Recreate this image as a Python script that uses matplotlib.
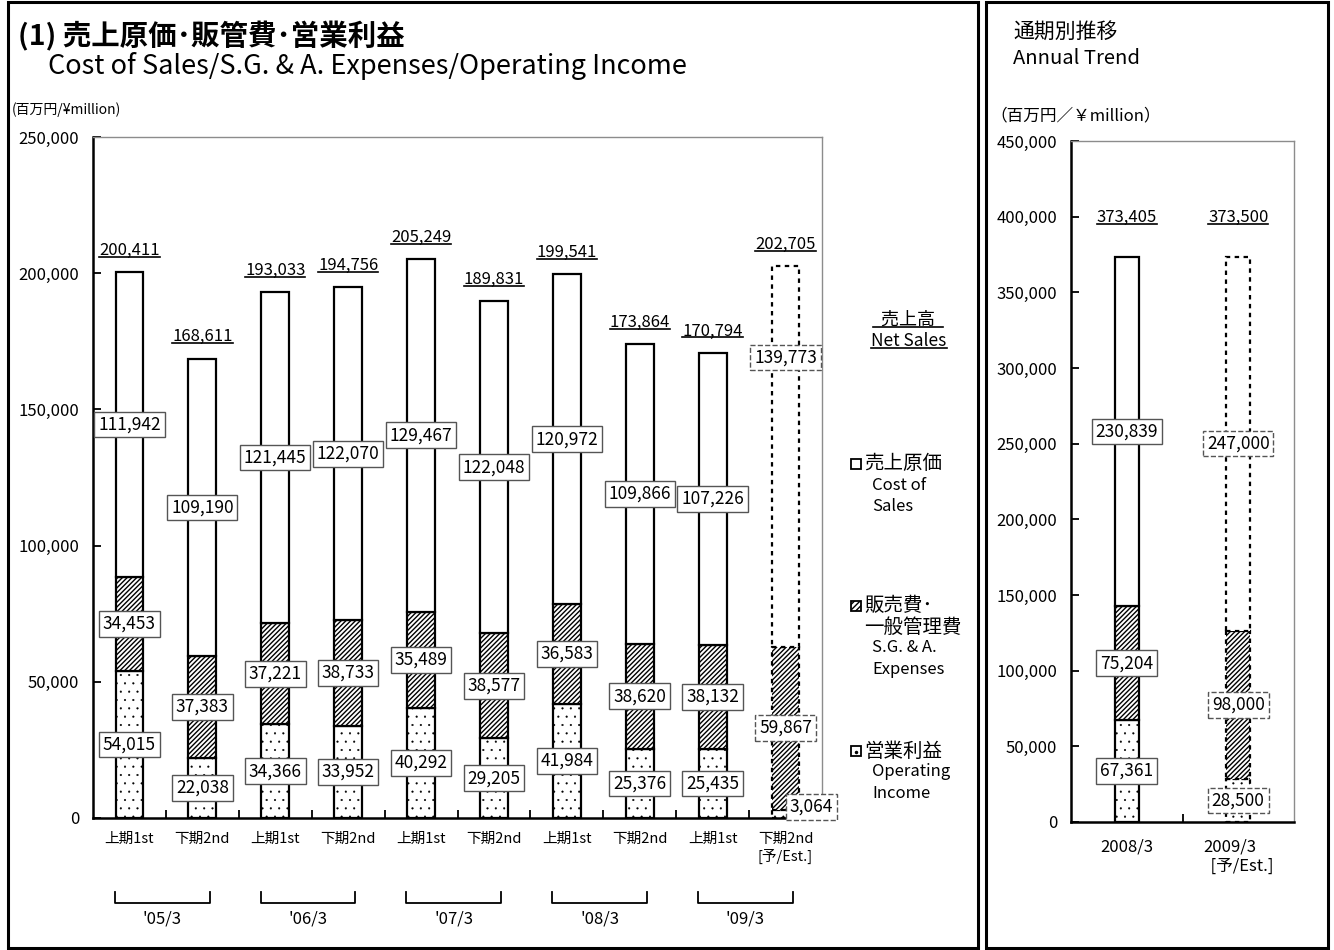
import matplotlib
matplotlib.use("Agg")
import matplotlib.pyplot as plt
from matplotlib.patches import Rectangle
from matplotlib.lines import Line2D
from matplotlib.transforms import blended_transform_factory

plt.rcParams["font.family"] = ["Noto Sans CJK JP", "DejaVu Sans"]
plt.rcParams["hatch.linewidth"] = 1.0

W, H = 1334, 950

# --- Datos semestrales (百万円) ---
half_labels = ["上期1st", "下期2nd", "上期1st", "下期2nd", "上期1st", "下期2nd",
               "上期1st", "下期2nd", "上期1st", "下期2nd\n[予/Est.]"]
fiscal_years = ["'05/3", "'06/3", "'07/3", "'08/3", "'09/3"]
op_income = [54015, 22038, 34366, 33952, 40292, 29205, 41984, 25376, 25435, 3064]
sga = [34453, 37383, 37221, 38733, 35489, 38577, 36583, 38620, 38132, 59867]
cost = [111942, 109190, 121445, 122070, 129467, 122048, 120972, 109866, 107226, 139773]
net_sales = [200411, 168611, 193033, 194756, 205249, 189831, 199541, 173864, 170794, 202705]
is_estimate = [False] * 9 + [True]

# --- Datos anuales ---
annual_labels = ["2008/3", "2009/3\n  [予/Est.]"]
annual_op = [67361, 28500]
annual_sga = [75204, 98000]
annual_cost = [230839, 247000]
annual_sales = [373405, 373500]
annual_estimate = [False, True]

# Posiciones manuales de etiquetas (como en el original)
EST_COST_LABEL_Y = 169000
EST_OP_LABEL = (0.35, 4000)


def fig_xy(x, y):
    return x / W, 1 - y / H


def thin_hatch(container, lw):
    for p in container:
        if hasattr(p, "set_hatch_linewidth"):
            p.set_hatch_linewidth(lw)


def stacked_bar(ax, x, op, sg, co, est, width):
    ls = (0, (2, 2)) if est else "-"
    with plt.rc_context({"hatch.linewidth": 0.3}):
        dots = ax.bar(x, op, width, bottom=0, fc="white", ec="black", lw=1.6,
                      ls=ls, hatch="..")
    thin_hatch(dots, 0.3)
    ax.bar(x, sg, width, bottom=op, fc="white", ec="black", lw=1.6, ls=ls,
           hatch="///////")
    ax.bar(x, co, width, bottom=op + sg, fc="white", ec="black", lw=1.6, ls=ls)


def value_label(ax, x, y, v, est, size=12.5):
    ax.text(x, y, f"{v:,}", ha="center", va="center", fontsize=size, zorder=5,
            bbox=dict(boxstyle="square,pad=0.22", fc="white", ec="#555555",
                      lw=1, ls="--" if est else "-"))


def style_axes(ax, n, ymax, step):
    ax.set_xlim(-0.5, n - 0.5)
    ax.set_ylim(0, ymax)
    ax.set_yticks(range(0, ymax + 1, step))
    ax.set_yticklabels([f"{v:,}" for v in range(0, ymax + 1, step)], fontsize=12)
    ax.set_xticks([i + 0.5 for i in range(n - 1)])
    ax.set_xticklabels([])
    ax.tick_params(axis="both", direction="in", length=6, width=1.3)
    ax.tick_params(axis="y", pad=10)
    for s in ("left", "bottom"):
        ax.spines[s].set_linewidth(1.8)
        ax.spines[s].set_color("black")
    for s in ("top", "right"):
        ax.spines[s].set_linewidth(1.0)
        ax.spines[s].set_color("#8c8c8c")


fig = plt.figure(figsize=(W / 100, H / 100), dpi=100)

# ------------------------------------------------------------------ #
#  Panel izquierdo: semestral
# ------------------------------------------------------------------ #
ax = fig.add_axes([93 / W, 1 - 818 / H, (822 - 93) / W, 681 / H])
n = len(net_sales)
for i in range(n):
    stacked_bar(ax, i, op_income[i], sga[i], cost[i], is_estimate[i], 0.38)
    est = is_estimate[i]
    if est:
        value_label(ax, i + EST_OP_LABEL[0], EST_OP_LABEL[1], op_income[i], est)
        value_label(ax, i, EST_COST_LABEL_Y, cost[i], est)
    else:
        value_label(ax, i, op_income[i] / 2, op_income[i], est)
        value_label(ax, i, op_income[i] + sga[i] + cost[i] / 2, cost[i], est)
    value_label(ax, i, op_income[i] + sga[i] / 2, sga[i], est)

style_axes(ax, n, 250000, 50000)
ax.set_xticks(range(n), minor=True)
ax.set_xticklabels(half_labels, minor=True, fontsize=10.5, ha="center",
                   multialignment="left", va="top")
ax.tick_params(axis="x", which="minor", length=0, pad=10)

totals_left = [ax.text(i, net_sales[i] + 8000, f"{net_sales[i]:,}", ha="center",
                       va="center", fontsize=12) for i in range(n)]

# corchetes por ejercicio
tr = blended_transform_factory(ax.transData, ax.transAxes)
for k, fy in enumerate(fiscal_years):
    x0, x1 = 2 * k - 0.2, 2 * k + 1.1
    ax.plot([x0, x0, x1, x1], [-0.108, -0.1245, -0.1245, -0.108], color="black",
            lw=1.3, transform=tr, clip_on=False)
    ax.text((x0 + x1) / 2, -0.149, fy, transform=tr, ha="center", va="center",
            fontsize=12)

# ------------------------------------------------------------------ #
#  Panel derecho: anual
# ------------------------------------------------------------------ #
ax2 = fig.add_axes([1071 / W, 1 - 822 / H, (1294 - 1071) / W, 681 / H])
m = len(annual_sales)
for i in range(m):
    est = annual_estimate[i]
    stacked_bar(ax2, i, annual_op[i], annual_sga[i], annual_cost[i], est, 0.215)
    value_label(ax2, i, annual_op[i] / 2, annual_op[i], est)
    value_label(ax2, i, annual_op[i] + annual_sga[i] / 2, annual_sga[i], est)
    value_label(ax2, i, annual_op[i] + annual_sga[i] + annual_cost[i] / 2,
                annual_cost[i], est)

style_axes(ax2, m, 450000, 50000)
ax2.set_xticks(range(m), minor=True)
ax2.set_xticklabels(annual_labels, minor=True, fontsize=12, ha="center",
                    multialignment="left", va="top")
ax2.tick_params(axis="x", which="minor", length=0, pad=12)

totals_right = [ax2.text(i, annual_sales[i] + 26000, f"{annual_sales[i]:,}",
                         ha="center", va="center", fontsize=12) for i in range(m)]

# ------------------------------------------------------------------ #
#  Textos, leyenda y marcos
# ------------------------------------------------------------------ #
fig.text(*fig_xy(18, 36), "(1) 売上原価･販管費･営業利益", fontsize=20.5,
         fontweight="bold", va="center")
fig.text(*fig_xy(48, 66), "Cost of Sales/S.G. & A. Expenses/Operating Income",
         fontsize=19.5, va="center")
fig.text(*fig_xy(12, 110), "(百万円/¥million)", fontsize=10, va="center")
fig.text(*fig_xy(1013, 32), "通期別推移", fontsize=15, va="center")
fig.text(*fig_xy(1013, 59), "Annual Trend", fontsize=14.5, va="center")
fig.text(*fig_xy(990, 116), "（百万円／￥million）", fontsize=12, va="center")

legend_head = [fig.text(*fig_xy(908, 320), "  売上高  ", fontsize=13,
                        ha="center", va="center"),
               fig.text(*fig_xy(909, 341), "Net Sales", fontsize=12.5,
                        ha="center", va="center")]

legend_items = [
    (464, ["売上原価"], ["Cost of", "Sales"], dict(fc="white")),
    (606, ["販売費･", "一般管理費"], ["S.G. & A.", "Expenses"],
     dict(fc="white", hatch="//////")),
    (751, ["営業利益"], ["Operating", "Income"], dict(fc="white")),
]
for y, jp, en, sq in legend_items:
    fig.add_artist(Rectangle(fig_xy(851, y + 5), 10 / W, 10 / H, ec="black",
                             lw=1.3, transform=fig.transFigure, **sq))
    row = y
    for t in jp:
        fig.text(*fig_xy(864, row), t, fontsize=14, va="center")
        row += 21
    for t in en:
        fig.text(*fig_xy(872, row), t, fontsize=12, va="center")
        row += 21
# punto del cuadro de 営業利益
fig.add_artist(Line2D([856 / W], [1 - 752 / H], marker="o", ms=1.5, color="black",
                      transform=fig.transFigure))

fig.add_artist(Rectangle(fig_xy(8, 948), 970 / W, 946 / H, fill=False, ec="black",
                         lw=2.2, transform=fig.transFigure))
fig.add_artist(Rectangle(fig_xy(986, 948), 342 / W, 946 / H, fill=False, ec="black",
                         lw=2.2, transform=fig.transFigure))

# subrayados
fig.canvas.draw()
inv = fig.transFigure.inverted()
for t in totals_left + totals_right + legend_head:
    bb = t.get_window_extent()
    (x0, y0), (x1, _) = inv.transform([(bb.x0, bb.y0 + 2), (bb.x1, bb.y0 + 2)])
    fig.add_artist(Line2D([x0, x1], [y0, y0], color="black", lw=1.2,
                          transform=fig.transFigure))

fig.savefig("out.png", dpi=100)
